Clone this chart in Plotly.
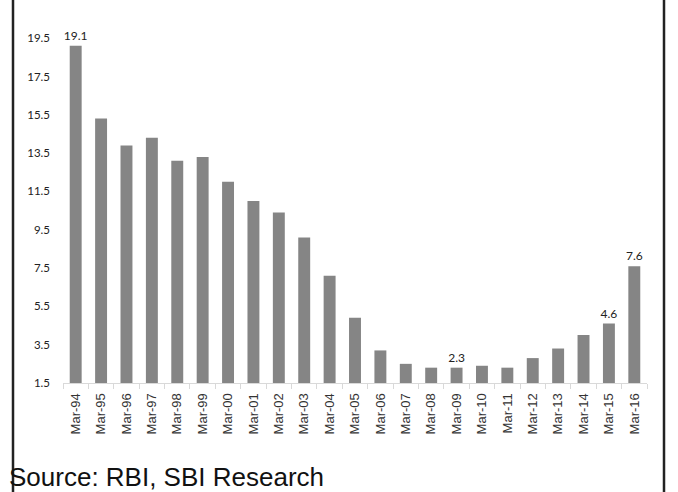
import plotly.graph_objects as go

categories = ["Mar-94", "Mar-95", "Mar-96", "Mar-97", "Mar-98", "Mar-99", "Mar-00",
              "Mar-01", "Mar-02", "Mar-03", "Mar-04", "Mar-05", "Mar-06", "Mar-07",
              "Mar-08", "Mar-09", "Mar-10", "Mar-11", "Mar-12", "Mar-13", "Mar-14",
              "Mar-15", "Mar-16"]
values = [19.1, 15.3, 13.9, 14.3, 13.1, 13.3, 12.0, 11.0, 10.4, 9.1, 7.1, 4.9, 3.2,
          2.5, 2.3, 2.3, 2.4, 2.3, 2.8, 3.3, 4.0, 4.6, 7.6]
labeled = ["Mar-94", "Mar-09", "Mar-15", "Mar-16"]
y_ticks = [1.5, 3.5, 5.5, 7.5, 9.5, 11.5, 13.5, 15.5, 17.5, 19.5]
source_text = "Source: RBI, SBI Research"

bar_text = [f"{v:.1f}" if c in labeled else "" for c, v in zip(categories, values)]

W, H = 678, 492
L, R, T, B = 63, 31, 19, 109
pw, ph = W - L - R, H - T - B

def px_x(x):
    return (x - L) / pw

def px_y(y):
    return (H - B - y) / ph

fig = go.Figure()
fig.add_trace(go.Bar(
    x=categories, y=values,
    marker=dict(color="#858585", line=dict(width=0)),
    width=0.47,
    text=bar_text, textposition="outside", cliponaxis=False,
    constraintext="none",
    textfont=dict(family="Lato, Carlito, sans-serif", size=12, color="#222222"),
))

fig.update_layout(
    width=W, height=H,
    margin=dict(l=L, r=R, t=T, b=B, pad=0),
    paper_bgcolor="white", plot_bgcolor="white",
    showlegend=False,
    xaxis=dict(
        type="category", range=[-0.5, len(categories) - 0.5],
        showline=True, linecolor="#d9d9d9", linewidth=1,
        ticks="outside", ticklen=5, tickcolor="#d9d9d9", tickson="boundaries",
        tickangle=-90, showgrid=False, ticklabelstandoff=4,
        tickfont=dict(family="Liberation Sans, Arial, sans-serif", size=13, color="#333333"),
    ),
    yaxis=dict(
        range=[1.5, 20.5], tickvals=y_ticks, ticktext=[f"{t:.1f}" for t in y_ticks],
        showgrid=False, showline=False, zeroline=False, ticks="",
        ticklabelstandoff=12,
        tickfont=dict(family="Lato, Carlito, sans-serif", size=11.5, color="#222222"),
    ),
    shapes=[
        dict(type="line", xref="paper", yref="paper",
             x0=px_x(13), x1=px_x(13), y0=px_y(H + 5), y1=px_y(-5),
             line=dict(color="#222222", width=2.5)),
        dict(type="line", xref="paper", yref="paper",
             x0=px_x(664), x1=px_x(664), y0=px_y(H + 5), y1=px_y(-5),
             line=dict(color="#222222", width=2.5)),
    ],
    annotations=[
        dict(text=source_text, xref="paper", yref="paper",
             x=px_x(7), y=px_y(477), xanchor="left", yanchor="middle",
             showarrow=False,
             font=dict(family="Liberation Sans, Arial, sans-serif", size=26, color="#111111")),
    ],
)

fig.write_html(
    "out.html",
    config={"displayModeBar": False},
    post_script="document.body.style.margin='0';document.body.style.overflow='hidden';",
)
